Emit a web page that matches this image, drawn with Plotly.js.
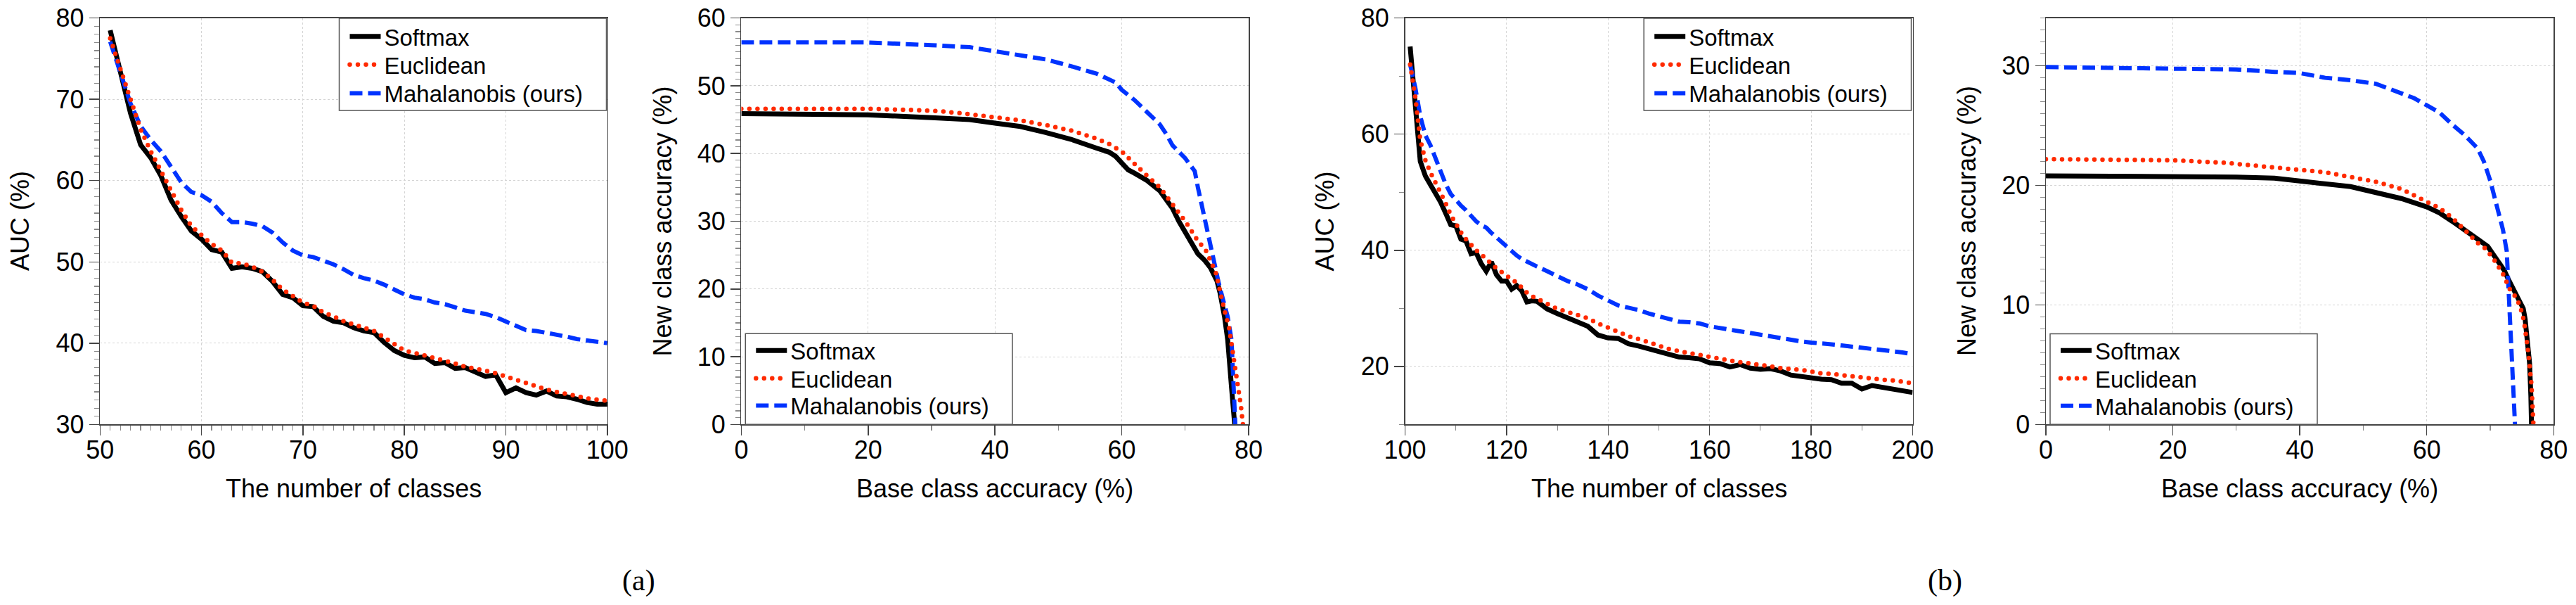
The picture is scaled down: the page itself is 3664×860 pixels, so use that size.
<!DOCTYPE html>
<html>
<head>
<meta charset="utf-8">
<script src="https://cdn.plot.ly/plotly-3.0.1.min.js"></script>
<style>
  html, body { margin: 0; padding: 0; background: #ffffff; }
  #chart { width: 3664px; height: 860px; }
  /* the dotted Euclidean curves use zero-length dashes drawn as round dots */
  path.js-line[style*="dasharray: 0"] { stroke-linecap: round; }
</style>
</head>
<body>
<div id="chart"></div>
<script>
// ---------- data ----------
const seriesNames = ['Softmax', 'Euclidean', 'Mahalanobis (ours)'];

// (a) AUC against the number of classes
const classesA = [51,52,53,54,55,56,57,58,59,60,61,62,63,64,65,66,67,68,69,70,
                  71,72,73,74,75,76,77,78,79,80,81,82,83,84,85,86,87,88,89,90,
                  91,92,93,94,95,96,97,98,99,100];
const aucSoftmaxA = [78.5,73.5,68.3,64.4,62.8,60.6,57.6,55.6,53.8,52.8,51.5,51.2,49.2,49.4,49.2,48.8,47.6,46.0,45.6,44.6,
                     44.5,43.3,42.7,42.5,41.9,41.5,41.3,40.1,39.1,38.5,38.2,38.3,37.5,37.6,36.9,37.0,36.5,35.9,36.1,33.9,
                     34.5,33.9,33.6,34.1,33.5,33.4,33.1,32.7,32.5,32.5];
const aucEuclidA = [77.5,73.7,69.9,66.3,63.6,61.2,58.8,56.4,54.4,53.3,52.2,51.4,49.9,49.8,49.4,48.8,47.8,46.6,45.8,45.0,
                    44.6,43.8,43.3,42.7,42.3,41.9,41.5,40.7,39.9,39.1,38.8,38.5,38.2,37.9,37.5,37.1,36.9,36.6,36.3,35.9,
                    35.5,35.0,34.7,34.3,34.0,33.8,33.5,33.2,33.0,32.9];
const aucMahalA = [77.1,73.1,69.5,66.7,65.0,63.6,61.6,59.8,58.6,58.2,57.4,56.0,54.9,54.9,54.7,54.4,53.6,52.4,51.4,50.8,
                   50.6,50.2,49.7,49.1,48.4,48.0,47.7,47.2,46.6,46.0,45.6,45.4,45.0,44.8,44.4,44.0,43.8,43.6,43.2,42.7,
                   42.1,41.6,41.5,41.3,41.0,40.8,40.5,40.3,40.1,40.0];

// (a) new class accuracy against base class accuracy
const baseSoftmaxA = [0,10,20,30,36,40,44,48,52,56,58,59,60,61,62,64,66,67,68,69,70,71,72,73,74,75,75.5,76.2,76.7,77.3,77.5,77.8];
const newSoftmaxA  = [45.9,45.8,45.7,45.3,45.0,44.5,44.0,43.1,42.1,40.8,40.2,39.6,38.6,37.6,37.1,36.0,34.5,33.3,31.9,30.0,28.3,26.7,25.2,24.3,23.1,21.2,19.4,15.9,12.5,5.5,3.0,0];
const baseEuclidA  = [0,10,20,28,32,36,40,44,48,52,56,58,60,62,64,66,68,70,72,73.2,74.8,75.6,76.2,76.9,77.3,77.7,78.0,78.4,78.8,79.1];
const newEuclidA   = [46.6,46.6,46.6,46.4,46.2,45.8,45.4,44.9,44.2,43.4,42.2,41.4,40.3,38.4,36.7,35.0,32.6,30.0,27.1,25.8,22.5,19.1,16.8,14.4,12.0,9.7,7.3,4.9,2.6,0];
const baseMahalA   = [0,10,20,30,36,40,44,48,52,56,59,60,62,64,66,67,68,70,71.5,72,73,74,74.7,75.3,76.0,76.7,77.3,77.5,77.8,77.9];
const newMahalA    = [56.4,56.4,56.4,56.0,55.7,55.1,54.5,53.9,52.9,51.8,50.5,49.4,47.9,46.2,44.3,42.9,41.2,39.3,37.4,35.0,30.5,26.3,23.2,20.8,18.3,15.9,12.5,8.3,3.5,0];

// (b) AUC against the number of classes
const classesB = [101,102,103,104,105,106,107,108,109,110,111,112,113,114,115,116,117,118,119,120,
                  121,122,123,124,125,126,128,130,132,134,136,138,140,142,144,146,148,150,152,154,
                  156,158,160,162,164,166,168,170,172,174,176,178,180,182,184,186,188,190,192,194,
                  196,198,200];
const aucSoftmaxB = [75.1,64.8,55.3,52.8,51.4,50.0,48.3,46.4,44.4,44.2,41.9,41.6,39.4,39.6,37.7,36.4,38.0,35.8,34.7,34.7,
                     33.3,33.9,33.0,31.1,31.3,31.2,29.9,29.1,28.3,27.5,26.9,25.4,24.9,24.8,23.9,23.5,23.0,22.7,22.2,21.6,
                     21.5,21.3,20.6,20.5,19.9,20.3,19.7,19.5,19.6,19.2,18.5,18.2,18.1,17.8,17.7,17.1,17.1,16.1,16.7,16.4,
                     16.3,16.0,15.5];
const aucEuclidB = [72.0,66.5,59.0,55.5,53.4,51.7,49.7,48.1,46.1,44.4,43.1,41.9,40.9,40.0,39.3,38.6,37.7,36.9,36.2,35.5,
                    35.0,34.4,33.5,32.7,32.1,31.6,30.8,29.9,29.4,28.8,28.3,27.4,26.6,25.8,25.2,24.7,24.1,23.4,23.0,22.6,
                    22.3,22.0,21.6,21.2,20.9,20.7,20.5,20.3,20.0,19.7,19.6,19.4,19.1,18.8,18.7,18.5,18.2,18.0,17.9,17.7,
                    17.6,17.4,17.1];
const aucMahalB = [72.0,68.1,63.1,59.8,58.1,55.9,53.6,51.4,49.7,48.6,47.7,46.9,45.9,45.0,44.3,43.9,43.0,42.2,41.3,40.5,
                   39.8,39.1,38.5,38.0,37.6,37.2,36.4,35.5,34.7,34.1,33.3,32.2,31.3,30.5,30.1,29.7,29.1,28.6,28.1,27.7,
                   27.6,27.4,26.9,26.6,26.3,26.0,25.7,25.4,25.1,24.8,24.5,24.3,24.1,24.0,23.8,23.6,23.4,23.3,23.1,22.9,
                   22.7,22.4,22.1];

// (b) new class accuracy against base class accuracy
const baseSoftmaxB = [0,20,30,36,40,44,48,52,56,60,62,64,66,68,69.6,72.2,72.8,74.2,75.2,75.5,75.9,76.2,76.4,76.5];
const newSoftmaxB  = [20.8,20.8,20.7,20.6,20.4,20.2,19.9,19.4,18.9,18.2,17.7,17.0,16.2,15.5,14.9,12.9,12.2,10.6,9.7,8.8,7.1,5.1,2.4,0];
const baseEuclidB  = [0,20,28,32,36,40,44,48,52,56,60,62,64,66,68,69.3,70.7,72.0,73.1,74.1,74.7,75.3,76.0,76.5,76.8];
const newEuclidB   = [22.2,22.1,21.9,21.7,21.5,21.3,21.1,20.7,20.3,19.7,18.7,18.1,17.3,16.3,15.2,14.7,13.7,12.6,11.3,10.6,9.9,8.7,6.0,3.3,0];
const baseMahalB   = [0,20,30,36,40,44,48,52,54,56,58,60,62,64,66,68,69,70,71,72,72.6,72.9,73.2,73.6,73.9];
const newMahalB    = [29.9,29.8,29.7,29.5,29.4,29.0,28.8,28.5,28.1,27.7,27.3,26.7,26.1,25.1,24.2,23.1,22.0,20.4,18.2,16.3,14.5,11.0,7.1,3.1,0];

// ---------- styling ----------
const W = 3664, H = 860;
const px = v => v / W;          // pixel column -> paper x
const py = v => 1 - v / H;      // pixel row -> paper y
const FONT = 'Liberation Sans, Arial, Helvetica, sans-serif';
const SERIF = 'Liberation Serif, DejaVu Serif, serif';

const lineStyles = [
  { color: '#000000', width: 7,   dash: 'solid' },
  { color: '#ff2a00', width: 6.5, dash: '0px,11.5px' },
  { color: '#0033ff', width: 6,   dash: '18px,8px' }
];

// every legend row is its own small legend so the rows sit at a fixed pitch
const legendIds = [
  ['legend',  'legend2',  'legend3'],
  ['legend4', 'legend5',  'legend6'],
  ['legend7', 'legend8',  'legend9'],
  ['legend10','legend11', 'legend12']
];

function curve(x, y, k, panel) {
  const n = panel === 0 ? '' : String(panel + 1);
  return {
    type: 'scatter', mode: 'lines', x: x, y: y,
    name: seriesNames[k],
    xaxis: 'x' + n, yaxis: 'y' + n, legend: legendIds[panel][k],
    line: { color: lineStyles[k].color, width: lineStyles[k].width, dash: lineStyles[k].dash },
    hoverinfo: 'skip'
  };
}

const data = [
  curve(classesA, aucSoftmaxA, 0, 0),
  curve(classesA, aucMahalA, 2, 0),
  curve(classesA, aucEuclidA, 1, 0),

  curve(baseSoftmaxA, newSoftmaxA, 0, 1),
  curve(baseMahalA, newMahalA, 2, 1),
  curve(baseEuclidA, newEuclidA, 1, 1),

  curve(classesB, aucSoftmaxB, 0, 2),
  curve(classesB, aucMahalB, 2, 2),
  curve(classesB, aucEuclidB, 1, 2),

  curve(baseSoftmaxB, newSoftmaxB, 0, 3),
  curve(baseMahalB, newMahalB, 2, 3),
  curve(baseEuclidB, newEuclidB, 1, 3)
];

const plotTop = 25.7, plotBottom = 603.3;
const yDomain = [py(plotBottom), py(plotTop)];
const panelX = [[142.3, 863.8], [1054.4, 1776.0], [1998.5, 2720.5], [2910.0, 3632.3]];

function axis(opts) {
  return Object.assign({
    ticks: 'outside', ticklen: 14, tickwidth: 1.5, tickcolor: '#444',
    showline: true, linecolor: '#444', linewidth: 1.5, mirror: true,
    showgrid: true, gridcolor: '#d4d4d4', gridwidth: 1, griddash: 'dot',
    zeroline: false, automargin: false, fixedrange: true,
    tickfont: { family: FONT, size: 36, color: '#000' }
  }, opts);
}
function xAxis(p, opts) {
  return axis(Object.assign({ domain: [px(panelX[p][0]), px(panelX[p][1])], ticklabelstandoff: -10 }, opts));
}
function minor(step) {
  return { dtick: step, ticks: 'outside', ticklen: 7, tickwidth: 1.2, tickcolor: '#8a8a8a', showgrid: false };
}

function legendRow(left, top) {
  return {
    x: px(left), y: py(top), xanchor: 'left', yanchor: 'top',
    bgcolor: 'rgba(0,0,0,0)', borderwidth: 0, itemwidth: 44,
    font: { family: FONT, size: 33, color: '#000' }
  };
}
function frame(x0, y0, x1, y1) {
  return {
    type: 'rect', xref: 'paper', yref: 'paper', layer: 'above',
    x0: px(x0), x1: px(x1), y0: py(y1), y1: py(y0),
    line: { color: '#555555', width: 1.5 }, fillcolor: '#ffffff'
  };
}
function label(t, xc, yc, angle, font) {
  return { text: t, xref: 'paper', yref: 'paper', x: px(xc), y: py(yc),
           xanchor: 'center', yanchor: 'middle', textangle: angle, showarrow: false, font: font };
}
const titleFont = { family: FONT, size: 36, color: '#000' };
const captionFont = { family: SERIF, size: 42, color: '#000' };
const midX = p => (panelX[p][0] + panelX[p][1]) / 2;
const midY = (plotTop + plotBottom) / 2;

// legend frames (left, top, right, bottom in pixels) and their row centres
const frames = [
  [482.5, 26.0, 862.5, 157.0],
  [1060.3, 474.3, 1440.0, 603.3],
  [2338.2, 26.0, 2718.5, 157.0],
  [2916.0, 474.5, 3296.0, 603.3]
];
const rowCentres = [
  [52.8, 92.9, 133.6],
  [499.2, 538.7, 577.5],
  [52.8, 92.9, 133.6],
  [499.4, 538.9, 577.7]
];

const layout = {
  width: W, height: H,
  margin: { l: 0, r: 0, t: 0, b: 0 },
  paper_bgcolor: '#ffffff', plot_bgcolor: '#ffffff',
  showlegend: true,
  xaxis:  xAxis(0, { anchor: 'y',  range: [50, 100], tick0: 50, dtick: 10, minor: minor(1) }),
  yaxis:  axis({ domain: yDomain, anchor: 'x',  range: [30, 80], tick0: 30, dtick: 10, minor: minor(1) }),
  xaxis2: xAxis(1, { anchor: 'y2', range: [0, 80], tick0: 0, dtick: 20, minor: minor(10) }),
  yaxis2: axis({ domain: yDomain, anchor: 'x2', range: [0, 60], tick0: 0, dtick: 10, minor: minor(1) }),
  xaxis3: xAxis(2, { anchor: 'y3', range: [100, 200], tick0: 100, dtick: 20, minor: minor(10) }),
  yaxis3: axis({ domain: yDomain, anchor: 'x3', range: [10, 80], tick0: 0, dtick: 20, minor: minor(10) }),
  xaxis4: xAxis(3, { anchor: 'y4', range: [0, 80], tick0: 0, dtick: 20, minor: minor(10) }),
  yaxis4: axis({ domain: yDomain, anchor: 'x4', range: [0, 34], tick0: 0, dtick: 10, minor: minor(1) }),
  shapes: frames.map(f => frame(f[0], f[1], f[2], f[3])),
  annotations: [
    label('AUC (%)', 28.5, midY, -90, titleFont),
    label('New class accuracy (%)', 942, midY, -90, titleFont),
    label('AUC (%)', 1884, midY, -90, titleFont),
    label('New class accuracy (%)', 2797.6, midY, -90, titleFont),
    label('The number of classes', midX(0), 694.3, 0, titleFont),
    label('Base class accuracy (%)', midX(1), 694.3, 0, titleFont),
    label('The number of classes', midX(2), 694.3, 0, titleFont),
    label('Base class accuracy (%)', midX(3), 694.3, 0, titleFont),
    label('(a)', 908, 825, 0, captionFont),
    label('(b)', 2766, 825, 0, captionFont)
  ]
};

frames.forEach((f, p) => {
  legendIds[p].forEach((id, k) => {
    layout[id] = legendRow(f[0] + 10, rowCentres[p][k] - 29);
  });
});

Plotly.newPlot('chart', data, layout, { staticPlot: true, displayModeBar: false });
</script>
</body>
</html>
